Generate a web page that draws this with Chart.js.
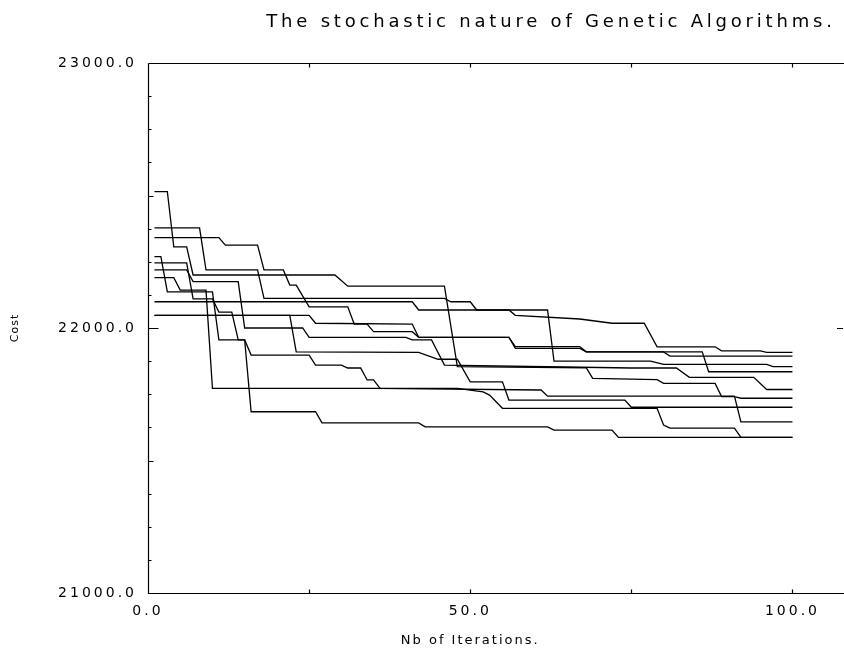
<!DOCTYPE html>
<html lang="en">
<head>
<meta charset="UTF-8">
<title>The stochastic nature of Genetic Algorithms.</title>
<script src="https://cdn.jsdelivr.net/npm/chart.js"></script>
<style>
  html, body { margin: 0; padding: 0; background: #fff; }
  #wrap { width: 844px; height: 653px; }
</style>
</head>
<body>
<div id="wrap"><canvas id="gaChart" width="844" height="653"></canvas></div>
<script>
const titleText = 'The stochastic nature of Genetic Algorithms.';
const xTitle = 'Nb of Iterations.';
const yTitle = 'Cost';
const xLabelTicks = [0, 50, 100];
const xMinorTicks = [25, 50, 75, 100];
const yLabelTicks = [21000, 22000, 23000];

// one GA run each: [iteration, cost] at the corners of the curve
const run1 = [[1,22515],[3,22515],[4,22306],[6,22306],[7,22200],[29,22200],[31,22158],[46,22158],[48,21854],[68,21850],[69,21810],[79,21805],[80,21791],[88,21791],[89,21741],[91,21741],[92,21735],[100,21735]];
const run2 = [[1,22378],[8,22378],[9,22219],[17,22219],[18,22112],[46,22112],[47,22099],[50,22099],[51,22068],[56,22068],[57,22048],[67,22034],[72,22018],[77,22018],[79,21929],[88,21929],[89,21914],[95,21914],[96,21908],[100,21908]];
const run3 = [[1,22341],[11,22341],[12,22313],[17,22313],[18,22219],[21,22219],[22,22162],[23,22162],[25,22080],[31,22080],[32,22015],[34,22015],[35,21986],[41,21986],[42,21965],[56,21965],[57,21923],[67,21923],[68,21910],[80,21910],[81,21894],[100,21894]];
const run4 = [[1,22269],[2,22269],[3,22136],[10,22136],[11,21955],[15,21955],[16,21684],[26,21684],[27,21642],[42,21642],[43,21627],[62,21627],[63,21615],[72,21615],[73,21587],[100,21587]];
const run5 = [[1,22190],[4,22190],[5,22143],[9,22143],[10,21772],[48,21772],[52,21759],[53,21747],[55,21697],[79,21697],[80,21634],[81,21622],[91,21622],[92,21587],[100,21587]];
const run6 = [[1,22246],[6,22246],[7,22110],[10,22110],[11,22060],[13,22060],[14,21955],[15,21955],[16,21898],[25,21898],[26,21860],[30,21860],[31,21849],[33,21849],[34,21804],[35,21804],[36,21772],[61,21766],[62,21743],[91,21743],[92,21646],[100,21646]];
const run7 = [[1,22048],[22,22048],[23,21910],[42,21908],[45,21882],[48,21882],[50,21797],[55,21797],[56,21728],[74,21728],[75,21701],[100,21701]];
const run8 = [[1,22048],[25,22048],[26,22018],[41,22015],[42,21965],[56,21965],[57,21930],[67,21930],[68,21910],[86,21910],[87,21835],[100,21835]];
const run9 = [[1,22099],[41,22099],[42,22068],[62,22068],[63,21875],[78,21875],[80,21863],[96,21863],[97,21854],[100,21854]];
const run10 = [[1,22219],[6,22219],[7,22175],[14,22175],[15,22000],[24,22000],[25,21965],[40,21965],[41,21955],[44,21955],[46,21860],[75,21849],[82,21849],[84,21814],[94,21814],[96,21768],[100,21768]];

const runs = [run1, run2, run3, run4, run5, run6, run7, run8, run9, run10];

const FONT = "'DejaVu Sans', sans-serif";

// frame, inward ticks and the texts, drawn like the old plotter output
const plotterFrame = {
    id: 'plotterFrame',
    beforeDraw(chart) {
        chart.ctx.letterSpacing = '3px';
    },
    afterDraw(chart) {
        const ctx = chart.ctx;
        const xs = chart.scales.x;
        const ys = chart.scales.y;
        const left = Math.round(xs.getPixelForValue(0)) + 0.5;
        const right = chart.width;
        const top = Math.round(ys.getPixelForValue(23000)) + 0.5;
        const bottom = Math.round(ys.getPixelForValue(21000)) + 0.5;
        ctx.save();
        ctx.letterSpacing = '0px';
        ctx.strokeStyle = '#000';
        ctx.lineWidth = 1.2;
        ctx.beginPath();
        // left, bottom and top edges
        ctx.moveTo(left, top);
        ctx.lineTo(left, bottom);
        ctx.lineTo(right, bottom);
        ctx.moveTo(left, top);
        ctx.lineTo(right, top);
        // x ticks on bottom and top, pointing into the plot
        xMinorTicks.forEach(v => {
            const px = Math.round(xs.getPixelForValue(v)) + 0.5;
            ctx.moveTo(px, bottom);
            ctx.lineTo(px, bottom - 4);
            ctx.moveTo(px, top);
            ctx.lineTo(px, top + 4);
        });
        // y ticks every 125, pointing into the plot
        for (let v = 21000; v <= 23000; v += 125) {
            const py = Math.round(ys.getPixelForValue(v)) + 0.5;
            let len = 3;
            if (v % 1000 === 0) len = 10;
            else if (v % 500 === 0) len = 5;
            ctx.moveTo(left, py);
            ctx.lineTo(left + len, py);
            if (v % 1000 === 0) {
                ctx.moveTo(right - 1, py);
                ctx.lineTo(right - 7, py);
            }
        }
        ctx.stroke();

        ctx.fillStyle = '#000';
        ctx.textBaseline = 'middle';
        ctx.textAlign = 'center';
        ctx.letterSpacing = '3.8px';
        ctx.font = '18px ' + FONT;
        ctx.fillText(titleText, 551, 22);

        ctx.font = '13px ' + FONT;
        ctx.letterSpacing = '2px';
        ctx.fillText(xTitle, xs.getPixelForValue(50), 641);

        ctx.translate(15, 328);
        ctx.rotate(-Math.PI / 2);
        ctx.font = '11px ' + FONT;
        ctx.letterSpacing = '1px';
        ctx.fillText(yTitle, 0, 0);
        ctx.restore();
    }
};

const gaChart = new Chart(document.getElementById('gaChart').getContext('2d'), {
    type: 'line',
    data: {
        datasets: runs.map((run, i) => ({
            label: 'Run ' + (i + 1),
            data: run.map(p => ({ x: p[0], y: p[1] })),
            borderColor: '#000',
            borderWidth: 1.3,
            pointRadius: 0,
            tension: 0,
            fill: false
        }))
    },
    options: {
        responsive: false,
        devicePixelRatio: 1,
        animation: false,
        layout: { padding: { top: 63, left: 0, right: 0, bottom: 0 } },
        plugins: {
            legend: { display: false },
            tooltip: { enabled: false },
            title: { display: false }
        },
        scales: {
            x: {
                type: 'linear',
                min: 0,
                max: 108,
                afterBuildTicks: s => { s.ticks = xLabelTicks.map(v => ({ value: v })); },
                afterFit: s => { s.height = 60; },
                grid: { display: false, drawTicks: false, tickLength: 0 },
                border: { display: false },
                ticks: {
                    callback: v => Number(v).toFixed(1),
                    color: '#000',
                    font: { family: FONT, size: 14 },
                    padding: 10,
                    maxRotation: 0,
                    autoSkip: false
                }
            },
            y: {
                type: 'linear',
                min: 21000,
                max: 23000,
                afterBuildTicks: s => { s.ticks = yLabelTicks.map(v => ({ value: v })); },
                afterFit: s => { s.width = 148; },
                grid: { display: false, drawTicks: false, tickLength: 0 },
                border: { display: false },
                ticks: {
                    callback: v => Number(v).toFixed(1),
                    color: '#000',
                    font: { family: FONT, size: 14 },
                    padding: 11,
                    autoSkip: false
                }
            }
        }
    },
    plugins: [plotterFrame]
});
</script>
</body>
</html>
